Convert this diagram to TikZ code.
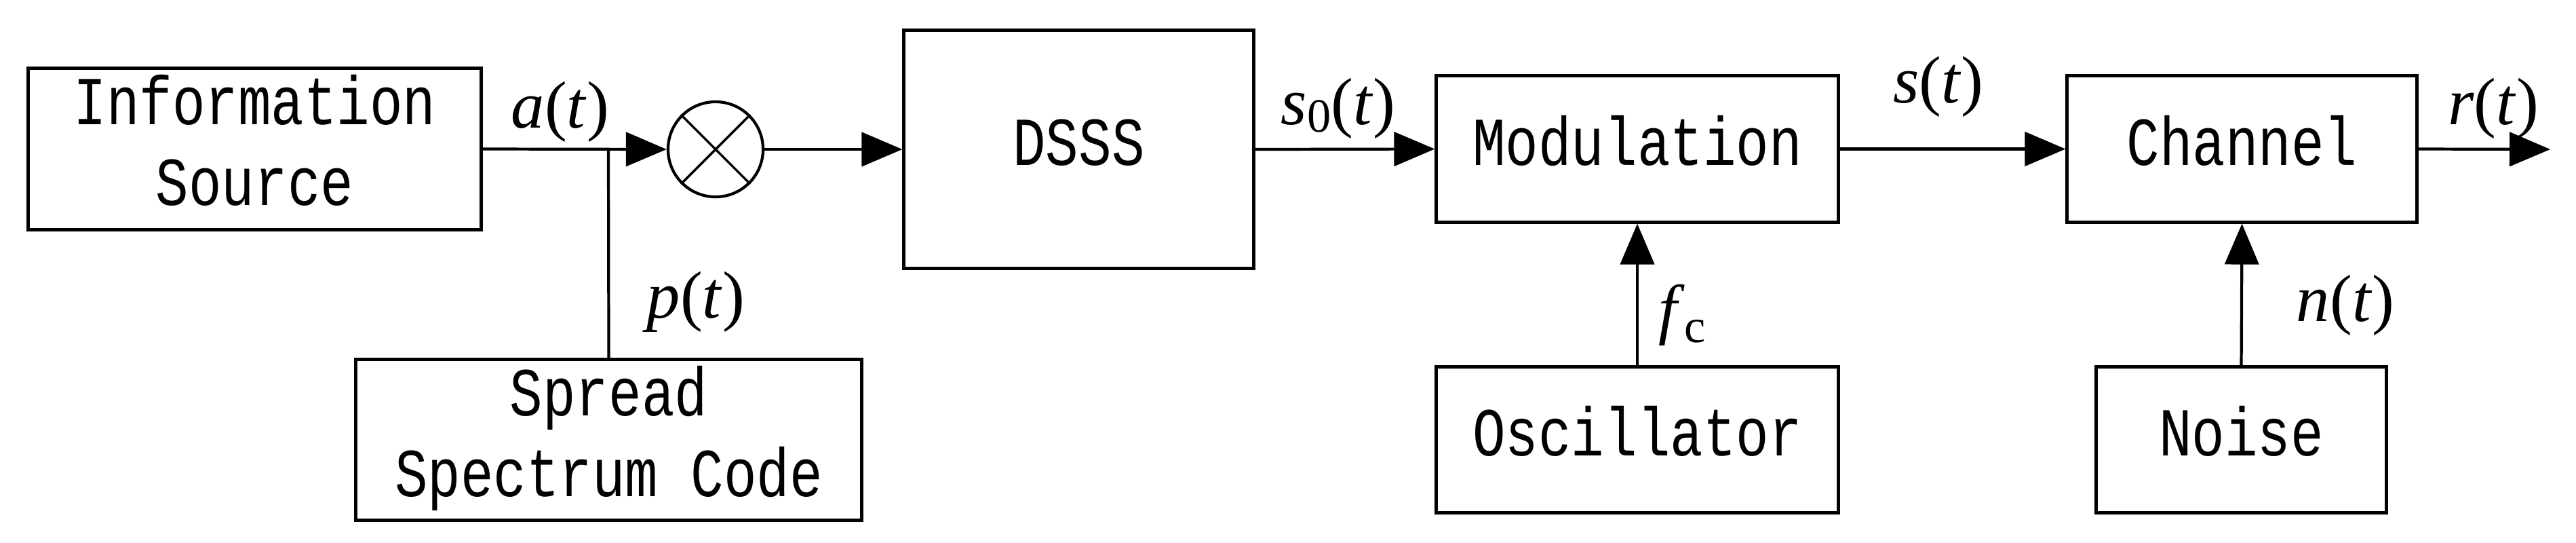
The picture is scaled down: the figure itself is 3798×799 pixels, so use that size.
\documentclass[tikz,border=0pt]{standalone}
\usepackage{fontspec}
\setmainfont{Liberation Serif}
\newfontfamily\boxfont{Liberation Mono}
\usetikzlibrary{arrows.meta}
\newcommand{\bt}[1]{\scalebox{1}[1.25]{\boxfont\fontsize{23}{27}\selectfont\begin{tabular}{@{}c@{}}#1\end{tabular}}}
\tikzset{
  blk/.style={draw, line width=1.4pt, inner sep=0pt},
  con/.style={line width=1.2pt, -{Triangle[length=0.6cm,width=0.5cm]}},
  pl/.style={line width=1.2pt},
  lab/.style={font=\fontsize{28}{30}\selectfont, inner sep=0pt}
}
\begin{document}
\begin{tikzpicture}[x=0.01cm,y=-0.01cm]
\useasboundingbox (0,0) rectangle (3798,799);
\node[blk, minimum width=667\pgflinewidth*0+6.67cm, minimum height=2.15cm] (src) at (375.5,219.5) {\bt{Information\\Source}};
\node[blk, minimum width=7.45cm, minimum height=2.14cm] (spr) at (897.5,648) {\bt{Spread\\Spectrum Code}};
\node[draw, circle, line width=1.2pt, minimum size=1.4cm, inner sep=0pt] (mul) at (1055,220) {};
\draw[line width=1pt] (mul.north west) -- (mul.south east) (mul.north east) -- (mul.south west);
\node[blk, minimum width=5.15cm, minimum height=3.5cm] (dsss) at (1590.5,220) {\bt{DSSS}};
\node[blk, minimum width=5.92cm, minimum height=2.15cm] (mod) at (2414,219.5) {\bt{Modulation}};
\node[blk, minimum width=5.15cm, minimum height=2.15cm] (ch) at (3305.5,219.5) {\bt{Channel}};
\node[blk, minimum width=5.92cm, minimum height=2.14cm] (osc) at (2414,648) {\bt{Oscillator}};
\node[blk, minimum width=4.27cm, minimum height=2.14cm] (noi) at (3304.5,648) {\bt{Noise}};
\coordinate (j) at (897,220);
\coordinate (out) at (3760,220);
\draw[pl] (spr.north) -- (j);
\draw[con] (src.east) -- (mul.west);
\draw[con] (mul.east) -- (dsss.west);
\draw[con] (dsss.east) -- (mod.west);
\draw[con] (mod.east) -- (ch.west);
\draw[con] (ch.east) -- (out);
\draw[con] (osc.north) -- (mod.south);
\draw[con] (noi.north) -- (ch.south);
\node[lab] (la) at (826,165) {\textit{a}(\textit{t})};
\node[lab] (lp) at (1026,445) {\textit{p}(\textit{t})};
\node[lab] (ls0) at (1973,160) {\textit{s}\raisebox{-0.25ex}{\fontsize{20}{20}\selectfont 0}(\textit{t})};
\node[lab] (ls) at (2858,128) {\textit{s}(\textit{t})};
\node[lab] (lr) at (3676,160) {\textit{r}(\textit{t})};
\node[lab] (lf) at (2480,464) {\textit{f}\raisebox{-0.35ex}{\fontsize{20}{20}\selectfont c}};
\node[lab] (ln) at (3458,450) {\textit{n}(\textit{t})};
\end{tikzpicture}
\end{document}
